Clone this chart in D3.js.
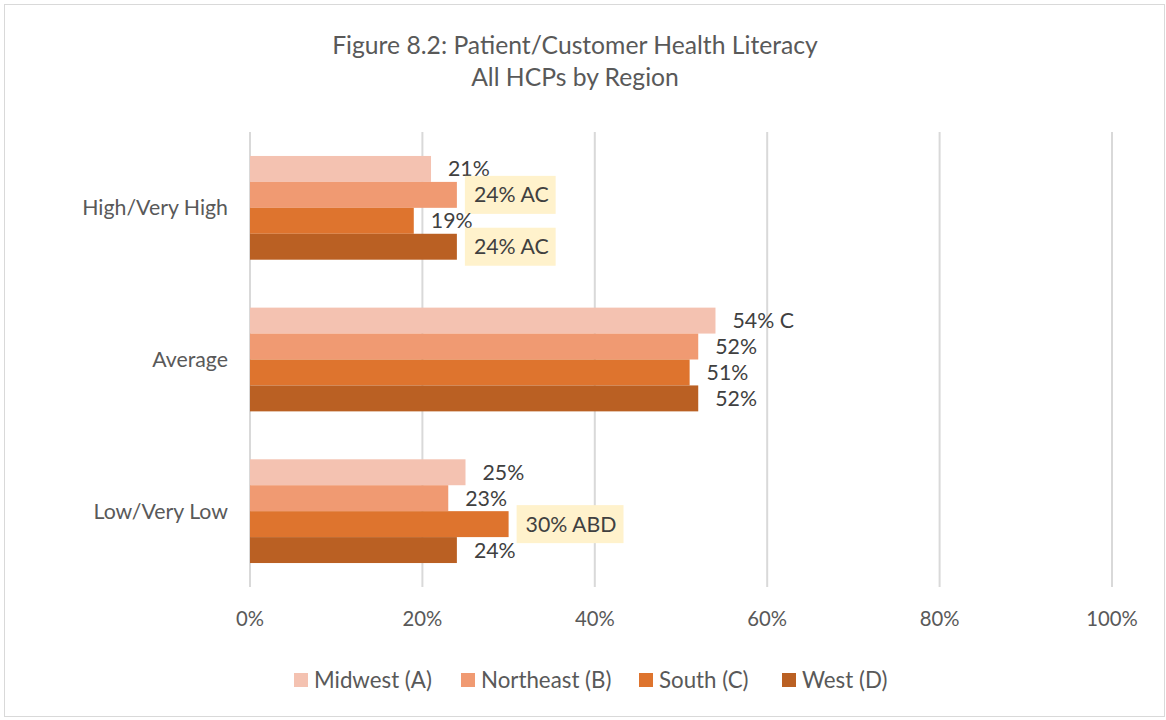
<!DOCTYPE html>
<html>
<head>
<meta charset="utf-8">
<script src="https://cdn.jsdelivr.net/npm/d3@7"></script>
<style>
    body { margin: 0; background: #fff; }
    svg text { font-family: Lato, "Open Sans", sans-serif; }
</style>
</head>
<body>
<div id="chart"></div>
<script>
// data
const categories = ["High/Very High", "Average", "Low/Very Low"];
const regions = ["Midwest (A)", "Northeast (B)", "South (C)", "West (D)"];
const midwest = [21, 54, 25];
const northeast = [24, 52, 23];
const south = [19, 51, 30];
const west = [24, 52, 24];
// significance letters, same order as the values
const midwestSig = ["", "C", ""];
const northeastSig = ["AC", "", ""];
const southSig = ["", "", "ABD"];
const westSig = ["AC", "", ""];
const ticks = [0, 20, 40, 60, 80, 100];

const colors = ["#F4C2B1", "#F09A72", "#DE742E", "#BA6023"];

let width = 1166, height = 720;
let margin = { left: 250, right: 54, top: 132, bottom: 133 };

let svg = d3.select("#chart")
    .append("svg")
    .attr("width", width)
    .attr("height", height);

// outer border
svg.append("rect")
    .attr("x", 4.5).attr("y", 4.5)
    .attr("width", 1160).attr("height", 712)
    .attr("fill", "#fff")
    .attr("stroke", "#d9d9d9")
    .attr("stroke-width", 1);

// title
svg.append("text")
    .attr("x", 575).attr("y", 54)
    .attr("text-anchor", "middle")
    .attr("font-size", 24.7)
    .attr("fill", "#595959")
    .text("Figure 8.2: Patient/Customer Health Literacy");
svg.append("text")
    .attr("x", 575).attr("y", 86)
    .attr("text-anchor", "middle")
    .attr("font-size", 24.7)
    .attr("fill", "#595959")
    .text("All HCPs by Region");

let x = d3.scaleLinear()
    .domain([0, 100])
    .range([margin.left, width - margin.right]);

let y = d3.scaleBand()
    .domain(categories)
    .range([margin.top, height - margin.bottom])
    .paddingInner(0.316)
    .paddingOuter(0.158);

let ySub = d3.scaleBand()
    .domain(regions)
    .range([0, y.bandwidth()]);

// gridlines
svg.append("g").selectAll("line")
    .data(ticks)
    .join("line")
    .attr("x1", d => x(d)).attr("x2", d => x(d))
    .attr("y1", margin.top).attr("y2", height - margin.bottom)
    .attr("stroke", "#d9d9d9")
    .attr("stroke-width", 2);

// tick labels
svg.append("g").selectAll("text")
    .data(ticks)
    .join("text")
    .attr("x", d => x(d))
    .attr("y", 626)
    .attr("text-anchor", "middle")
    .attr("font-size", 20.3)
    .attr("fill", "#595959")
    .text(d => d + "%");

// category labels
svg.append("g").selectAll("text")
    .data(categories)
    .join("text")
    .attr("x", 228)
    .attr("y", d => y(d) + y.bandwidth() / 2)
    .attr("dy", "0.35em")
    .attr("text-anchor", "end")
    .attr("font-size", 21.3)
    .attr("fill", "#595959")
    .text(d => d);

// build rows
let series = [midwest, northeast, south, west];
let sigs = [midwestSig, northeastSig, southSig, westSig];
let rows = [];
categories.forEach((c, ci) => {
    regions.forEach((r, ri) => {
        rows.push({ cat: c, region: r, ri: ri, value: series[ri][ci], sig: sigs[ri][ci] });
    });
});

// bars
svg.append("g").selectAll("rect")
    .data(rows)
    .join("rect")
    .attr("x", x(0))
    .attr("y", d => y(d.cat) + ySub(d.region))
    .attr("width", d => x(d.value) - x(0))
    .attr("height", ySub.bandwidth())
    .attr("fill", d => colors[d.ri]);

// labels
let labels = svg.append("g").selectAll("g")
    .data(rows)
    .join("g")
    .attr("transform", d => `translate(${x(d.value) + 17}, ${y(d.cat) + ySub(d.region) + ySub.bandwidth() / 2})`);

labels.each(function (d) {
    let g = d3.select(this);
    let txt = d.value + "%" + (d.sig ? " " + d.sig : "");
    let t = g.append("text")
        .attr("dy", "0.35em")
        .attr("font-size", 21.3)
        .attr("fill", "#404040")
        .text(txt);
    // significant results get a highlight box
    if (d.sig && d.sig.length > 1) {
        let w = t.node().getComputedTextLength();
        g.insert("rect", "text")
            .attr("x", -9)
            .attr("y", -19)
            .attr("width", w + 16)
            .attr("height", 38)
            .attr("fill", "#FFF2CC");
    }
});

// legend
let legendX = [294, 461, 639, 782];
let legend = svg.append("g").selectAll("g")
    .data(regions)
    .join("g")
    .attr("transform", (d, i) => `translate(${legendX[i]}, 680)`);
legend.append("rect")
    .attr("x", 0).attr("y", -7)
    .attr("width", 14).attr("height", 14)
    .attr("fill", (d, i) => colors[i]);
legend.append("text")
    .attr("x", 20)
    .attr("dy", "0.35em")
    .attr("font-size", 22.3)
    .attr("fill", "#595959")
    .text(d => d);
</script>
</body>
</html>
